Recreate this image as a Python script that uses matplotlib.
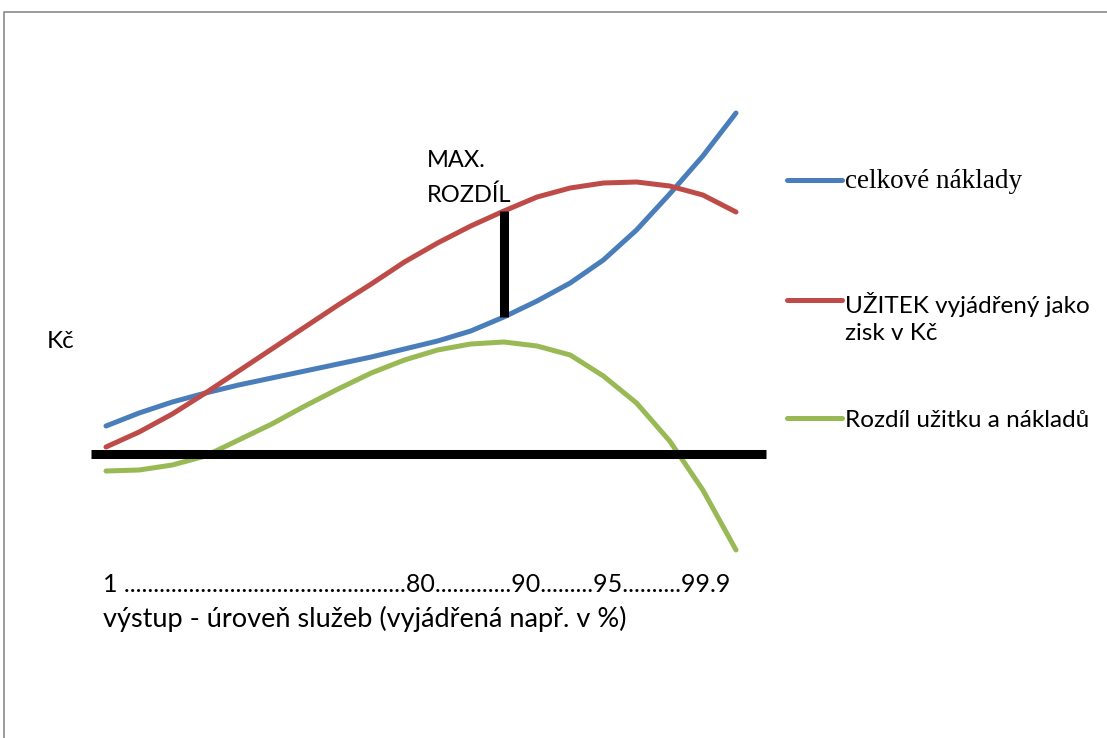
import matplotlib
matplotlib.use("Agg")
import matplotlib.pyplot as plt
from matplotlib.lines import Line2D

# Values along the service level axis (Kč, relative to the zero line)
naklady = [28, 41, 52, 61, 69, 76, 83, 90, 97, 105,
           113, 123, 137, 153, 171, 194, 224, 260, 298, 341]
uzitek = [7, 22, 40, 61, 83, 105, 127, 149, 170, 192,
          211, 228, 243, 257, 266, 271, 272, 268, 259, 242]
rozdil = [-17, -16, -11, -2, 14, 30, 48, 65, 81, 94,
          104, 110, 112, 108, 99, 78, 51, 13, -36, -96]
max_idx = 12

labels = ["celkové náklady", "UŽITEK vyjádřený jako\nzisk v Kč", "Rozdíl užitku a nákladů"]
colors = ["#4A7EBB", "#BE4B48", "#98B954"]
x_marks = ["1 ", "80", "90", "95", "99.9"]
x_dots = [48, 13, 9, 10]
x_title = "výstup - úroveň služeb (vyjádřená např. v %)"

W, H = 1107, 738
sans = ["Lato", "DejaVu Sans"]
serif = ["Liberation Serif", "DejaVu Serif"]

fig = plt.figure(figsize=(W / 100, H / 100), dpi=100)
fig.patch.set_facecolor("white")

# plot area: one x step ~33 px, one y unit = 1 px, zero line 454 px from top
step = 630 / 19
ax = fig.add_axes([0, 0, 1, 1])
ax.set_xlim(-106 / step, (W - 106) / step)
ax.set_ylim(-(H - 454), 454)
ax.axis("off")

xs = list(range(len(naklady)))
for ys, c in zip([naklady, uzitek, rozdil], colors):
    ax.plot(xs, ys, color=c, lw=3.6, solid_capstyle="round", solid_joinstyle="round")

ax.hlines(0, -0.45, 19.9, color="black", lw=6.5)
ax.vlines(max_idx, naklady[max_idx], uzitek[max_idx], color="black", lw=6.5)


def px(x, y):
    return x / W, 1 - y / H


# outer frame (left and top edges)
fig.add_artist(Line2D([4 / W, 4 / W, 1], [0, 1 - 12 / H, 1 - 12 / H],
                      color="#8a8a8a", lw=1.2, transform=fig.transFigure))

fig.text(*px(47, 348), "Kč", family=sans, fontsize=17.5, va="baseline")
fig.text(*px(427, 167), "MAX.", family=sans, fontsize=17, va="baseline")
fig.text(*px(427, 202), "ROZDÍL", family=sans, fontsize=17, va="baseline")

x_line = x_marks[0]
for n, mark in zip(x_dots, x_marks[1:]):
    x_line += "." * n + mark
fig.text(*px(103, 592), x_line, family=sans, fontsize=18, va="baseline")
fig.text(*px(103, 627), x_title, family=sans, fontsize=19.5, va="baseline")

# legend
handle_y = [180, 300, 418]
text_y = [188, 313, 427]
for i, (lab, c) in enumerate(zip(labels, colors)):
    fig.add_artist(Line2D([787 / W, 842 / W], [1 - handle_y[i] / H] * 2, color=c, lw=3.6,
                          solid_capstyle="round", transform=fig.transFigure))
    if i == 0:
        fig.text(*px(845, text_y[i]), lab, family=serif, fontsize=19.5, va="baseline")
    else:
        for j, part in enumerate(lab.split("\n")):
            fig.text(*px(845, text_y[i] + 27 * j), part, family=sans, fontsize=17.5,
                     va="baseline")

fig.savefig("out.png", dpi=100, facecolor="white")
